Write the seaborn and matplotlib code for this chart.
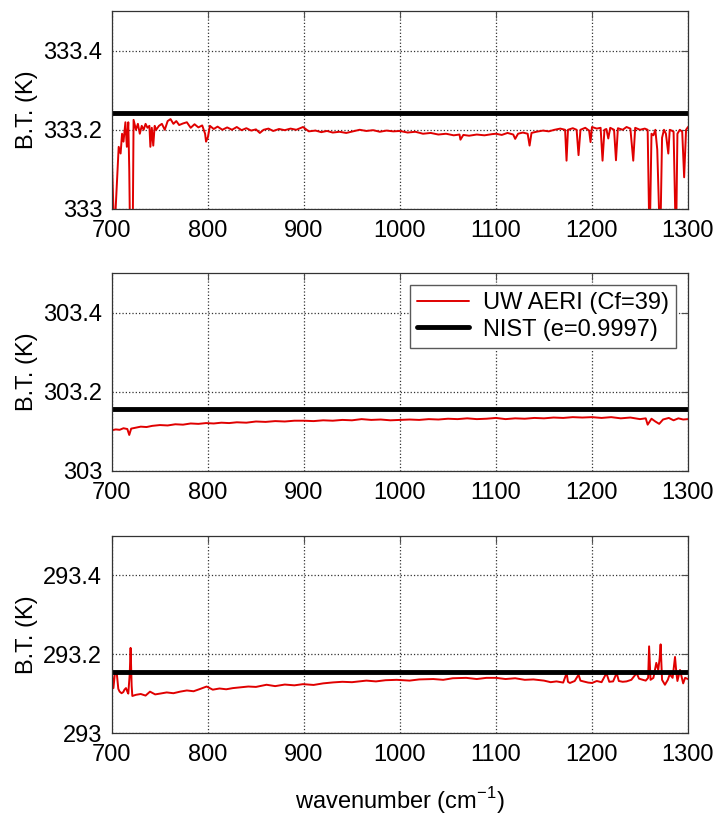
import numpy as np
import pandas as pd
import matplotlib
matplotlib.use("Agg")
import matplotlib.pyplot as plt
import seaborn as sns

# ---- data ----
top_wn = [700, 701.5, 703, 705, 707, 709, 710.5, 712, 714, 715.5,
          717, 718, 719, 721.5, 722.5, 725, 727, 729, 731, 733,
          735, 737, 739, 740, 741.5, 743, 744.5, 746, 749, 752,
          755, 758, 761, 764, 767, 770, 774, 778, 782, 786,
          790, 794, 797, 798, 800, 802, 806, 810, 815, 820,
          825, 830, 835, 840, 845, 850, 854, 858, 863, 868,
          874, 880, 886, 892, 899, 905, 912, 918, 924, 930,
          937, 944, 951, 958, 965, 972, 979, 986, 993, 1000,
          1008, 1016, 1024, 1032, 1040, 1048, 1056, 1062, 1063, 1066,
          1072, 1080, 1088, 1096, 1100, 1106, 1112, 1118, 1120, 1123,
          1128, 1133, 1135, 1137, 1142, 1149, 1155, 1161, 1167, 1172,
          1173.5, 1175, 1180, 1184, 1186, 1188, 1193, 1197, 1198.5, 1200,
          1205, 1209, 1211, 1213, 1215, 1217, 1219, 1223, 1225, 1227,
          1232, 1236, 1240, 1243, 1245, 1250, 1255, 1258, 1260, 1262,
          1264, 1266, 1268, 1271, 1273, 1275, 1277, 1279.5, 1281, 1283,
          1285, 1287.5, 1289, 1291.5, 1294, 1296, 1298, 1300]
top_bt = [333.12, 333.0, 332.96, 333.06, 333.157, 333.14, 333.19, 333.17, 333.219, 333.157,
          333.219, 333.1, 332.9, 332.9, 333.225, 333.2, 333.215, 333.19, 333.21, 333.2,
          333.215, 333.205, 333.21, 333.157, 333.205, 333.16, 333.21, 333.2, 333.21, 333.215,
          333.2, 333.222, 333.227, 333.215, 333.222, 333.212, 333.216, 333.219, 333.205, 333.214,
          333.206, 333.211, 333.19, 333.17, 333.182, 333.21, 333.202, 333.208, 333.2, 333.206,
          333.2, 333.207, 333.199, 333.204, 333.198, 333.201, 333.192, 333.2, 333.203, 333.197,
          333.202, 333.199, 333.203, 333.2, 333.207, 333.196, 333.198, 333.194, 333.197, 333.193,
          333.195, 333.192, 333.196, 333.2, 333.197, 333.199, 333.195, 333.198, 333.196, 333.197,
          333.193, 333.195, 333.19, 333.192, 333.188, 333.19, 333.186, 333.188, 333.175, 333.187,
          333.185, 333.188, 333.186, 333.189, 333.19, 333.187, 333.192, 333.188, 333.177, 333.19,
          333.193, 333.19, 333.16, 333.192, 333.195, 333.198, 333.196, 333.2, 333.203, 333.2,
          333.122, 333.2, 333.204, 333.2, 333.136, 333.2, 333.205, 333.198, 333.169, 333.207,
          333.203, 333.205, 333.122, 333.2, 333.202, 333.178, 333.205, 333.2, 333.123, 333.204,
          333.2, 333.207, 333.203, 333.122, 333.205, 333.2, 333.203, 333.2, 332.9, 333.19,
          333.186, 333.2, 333.15, 332.9, 333.18, 333.2, 333.19, 333.14, 333.2, 333.198,
          333.195, 332.9, 333.19, 333.2, 333.195, 333.08, 333.2, 333.207]

mid_wn = [700, 704, 708, 712, 716, 718, 720, 724, 730, 736,
          742, 750, 758, 766, 774, 782, 790, 798, 806, 814,
          822, 830, 840, 850, 860, 870, 880, 890, 900, 910,
          920, 930, 940, 950, 960, 970, 980, 990, 1000, 1010,
          1020, 1030, 1040, 1050, 1060, 1070, 1080, 1090, 1100, 1110,
          1120, 1130, 1140, 1150, 1160, 1170, 1180, 1190, 1200, 1210,
          1220, 1230, 1240, 1250, 1256, 1258, 1262, 1266, 1270, 1274,
          1280, 1285, 1290, 1295, 1300]
mid_bt = [303.103, 303.105, 303.104, 303.108, 303.106, 303.091, 303.107, 303.109, 303.112, 303.111,
          303.114, 303.116, 303.115, 303.118, 303.117, 303.12, 303.119, 303.121, 303.12, 303.122,
          303.121, 303.123, 303.122, 303.125, 303.124, 303.126, 303.125, 303.127, 303.127, 303.126,
          303.128, 303.127, 303.129, 303.128, 303.131, 303.129, 303.13, 303.128, 303.129, 303.13,
          303.129, 303.131, 303.13, 303.132, 303.131, 303.133, 303.131, 303.132, 303.134, 303.131,
          303.133, 303.132, 303.134, 303.133, 303.135, 303.134, 303.136, 303.135, 303.136, 303.134,
          303.136, 303.133, 303.135, 303.131, 303.133, 303.117, 303.132, 303.125, 303.119, 303.13,
          303.134, 303.128, 303.133, 303.13, 303.131]

bot_wn = [700, 701.5, 703, 705, 706.6, 708, 710, 711.8, 713, 714.6,
          716, 717, 718.5, 719.4, 720.5, 721.2, 725, 730, 735, 739.6,
          745, 750, 757, 764, 771, 778, 785, 792, 798.6, 805,
          812, 819, 826, 834, 842, 850, 861, 870, 880, 890,
          899, 910, 920, 930.5, 940, 950, 965, 975, 985, 996.6,
          1010, 1020, 1034.7, 1045, 1055, 1069, 1080, 1090, 1100, 1110,
          1120, 1130, 1139, 1150, 1157, 1163, 1170, 1173.6, 1175, 1177,
          1182, 1186, 1188, 1191, 1196, 1200, 1205, 1210, 1215, 1218,
          1222, 1225.7, 1228, 1232, 1236, 1241, 1246.5, 1249, 1253, 1256,
          1258.5, 1259.5, 1261, 1264, 1267, 1269, 1270.5, 1271.5, 1273, 1276,
          1279, 1281, 1284, 1286.5, 1288, 1289, 1291.7, 1295, 1297, 1300]
bot_bt = [293.152, 293.114, 293.15, 293.152, 293.112, 293.105, 293.101, 293.104, 293.11, 293.114,
          293.105, 293.1, 293.15, 293.216, 293.12, 293.094, 293.097, 293.099, 293.095, 293.105,
          293.098, 293.1, 293.103, 293.101, 293.105, 293.108, 293.106, 293.112, 293.118, 293.11,
          293.113, 293.111, 293.114, 293.116, 293.118, 293.117, 293.1225, 293.119, 293.123, 293.121,
          293.124, 293.122, 293.126, 293.1285, 293.13, 293.129, 293.133, 293.131, 293.134, 293.135,
          293.133, 293.136, 293.137, 293.135, 293.139, 293.14, 293.137, 293.14, 293.14, 293.137,
          293.139, 293.135, 293.136, 293.133, 293.129, 293.131, 293.128, 293.152, 293.13, 293.127,
          293.132, 293.148, 293.133, 293.131, 293.128, 293.127, 293.132, 293.129, 293.152, 293.13,
          293.131, 293.152, 293.132, 293.13, 293.131, 293.135, 293.152, 293.138, 293.135, 293.133,
          293.14, 293.22, 293.135, 293.14, 293.178, 293.16, 293.19, 293.225, 293.135, 293.1225,
          293.135, 293.149, 293.14, 293.193, 293.15, 293.132, 293.16, 293.126, 293.14, 293.137]

nist_bt = [333.243, 303.157, 293.155]
y_base = [333, 303, 293]
wn_range = [700, 1300]
aeri_label = "UW AERI (Cf=39)"
nist_label = "NIST (e=0.9997)"

sns.set_style("white")
plt.rcParams['font.family'] = ['Liberation Sans', 'DejaVu Sans']
plt.rcParams['font.size'] = 17
for key in ['text.color', 'axes.labelcolor', 'xtick.color', 'ytick.color']:
    plt.rcParams[key] = 'black'

fig = plt.figure(figsize=(7.21, 8.15), dpi=100)
# axes boxes (left, bottom, width, height) in figure fractions
boxes = [(0.1553, 0.7436, 0.7989, 0.2429),
         (0.1553, 0.4221, 0.7989, 0.2429),
         (0.1553, 0.1006, 0.7989, 0.2417)]

series = [(top_wn, top_bt), (mid_wn, mid_bt), (bot_wn, bot_bt)]

for i, (wn, bt) in enumerate(series):
    ax = fig.add_axes(boxes[i])
    df = pd.DataFrame({"wn": wn, "bt": bt})
    sns.lineplot(data=df, x="wn", y="bt", ax=ax, color="#e00000", lw=1.4,
                 label=aeri_label, estimator=None, sort=False)
    sns.lineplot(x=wn_range, y=[nist_bt[i]] * 2, ax=ax, color="black", lw=3.5,
                 label=nist_label)
    base = y_base[i]
    ax.set_xlim(700, 1300)
    ax.set_ylim(base, base + 0.5)
    ax.set_xticks([700, 800, 900, 1000, 1100, 1200, 1300])
    ax.set_yticks([base, base + 0.2, base + 0.4])
    ax.set_yticklabels([f"{base}", f"{base + 0.2:.1f}", f"{base + 0.4:.1f}"])
    ax.grid(True, ls=":", color="0.2", lw=0.9)
    ax.tick_params(direction="in", top=True, right=True, length=5,
                   labelsize=17, color="0.3", labelcolor="black")
    ax.tick_params(axis="x", pad=8)
    ax.tick_params(axis="y", pad=7)
    for s in ax.spines.values():
        s.set_color("0.2")
        s.set_linewidth(0.9)
    ax.set_xlabel("")
    ax.set_ylabel("B.T. (K)", fontsize=17, labelpad=4)
    if i == 1:
        ax.legend(loc="upper right", fontsize=17, fancybox=False,
                  framealpha=1, edgecolor="0.35", borderaxespad=0.5,
                  handlelength=2.2, borderpad=0.3, labelspacing=0.2,
                  handletextpad=0.6)
    else:
        ax.get_legend().remove()
    if i == 2:
        ax.set_xlabel("wavenumber (cm$^{\\mathregular{-1}}$)", fontsize=17, labelpad=14)

fig.savefig("out.png", dpi=100)
